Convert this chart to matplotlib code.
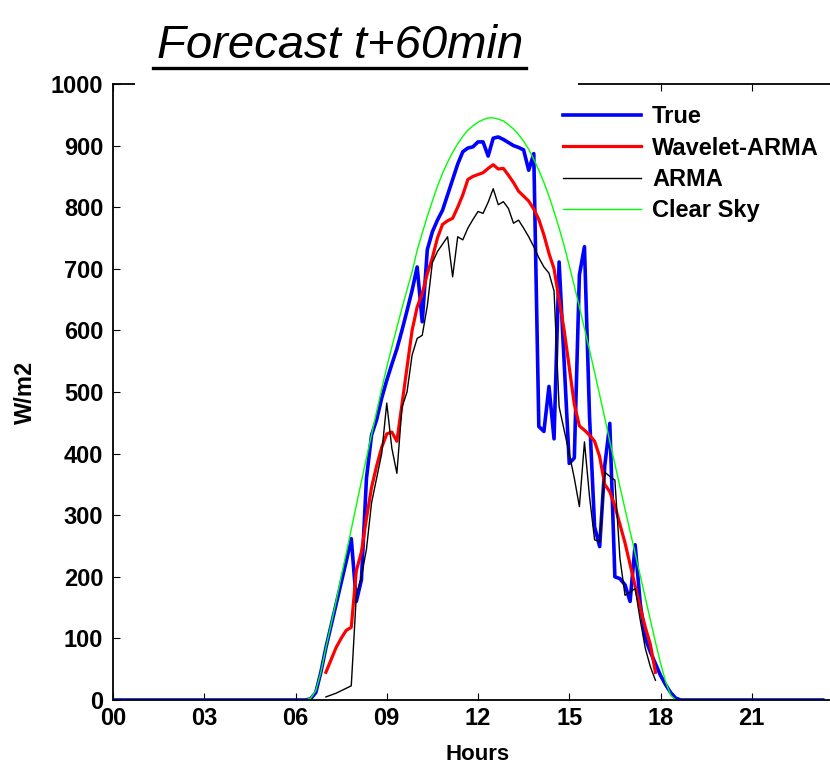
import numpy as np
import matplotlib
matplotlib.use("Agg")
import matplotlib.pyplot as plt
from matplotlib.lines import Line2D
from matplotlib.patches import Rectangle

plt.rcParams["font.family"] = ["Liberation Sans", "DejaVu Sans"]

# =========================
# data (10-minute steps, W/m2)
# =========================
STEP_H = 1 / 6
N_DAY = 141  # 00:00 .. 23:20

# True: 06:20 .. 18:30
TRUE_START = 6 + 20 / 60
TRUE = [0, 2, 12, 45, 85, 120, 155, 190, 225, 262,
        160, 195, 360, 430, 455, 490, 519, 545, 570, 600,
        632, 665, 703, 614, 731, 760, 779, 795, 820, 845,
        870, 890, 896, 898, 906, 906, 883, 912, 914, 910,
        905, 900, 897, 893, 860, 887, 444, 436, 509, 424,
        711, 547, 384, 393, 690, 736, 460, 281, 249, 380,
        449, 200, 197, 187, 160, 252, 157, 100, 78, 59,
        40, 25, 12, 3, 0]

# Wavelet-ARMA: 07:00 .. 17:50
WAV_START = 7.0
WAVELET = [45, 65, 85, 100, 113, 118, 210, 240, 295, 345,
           380, 410, 432, 435, 420, 480, 540, 600, 638, 660,
           692, 718, 750, 772, 778, 782, 800, 820, 845, 850,
           853, 856, 863, 869, 862, 863, 852, 840, 826, 818,
           810, 797, 780, 755, 725, 700, 650, 600, 540, 480,
           445, 438, 430, 420, 395, 350, 338, 315, 285, 255,
           220, 185, 150, 118, 90, 45]

# ARMA: 07:00 .. 17:50
ARMA_START = 7.0
ARMA = [5, 8, 11, 15, 19, 23, 170, 200, 245, 320,
        360, 400, 482, 409, 368, 475, 500, 560, 587, 592,
        640, 710, 728, 740, 752, 687, 752, 747, 766, 780,
        793, 790, 808, 830, 804, 809, 798, 774, 779, 766,
        752, 736, 718, 703, 693, 664, 476, 438, 400, 360,
        314, 419, 330, 260, 257, 370, 363, 357, 230, 170,
        175, 181, 130, 84, 54, 32]

# Clear sky: 06:20 .. 18:30
CS_START = 6 + 20 / 60
CLEAR_SKY = [0, 3, 15, 45, 85, 122, 160, 200, 238, 277,
             316, 355, 393, 431, 468, 505, 540, 573, 605, 636,
             666, 695, 730, 758, 785, 810, 834, 855, 873, 889,
             903, 915, 925, 932, 938, 942, 945, 945, 943, 940,
             934, 927, 918, 907, 894, 878, 860, 840, 818, 793,
             766, 737, 705, 672, 638, 603, 568, 532, 495, 458,
             420, 383, 346, 310, 274, 238, 202, 166, 130, 94,
             60, 30, 8, 0]

XTICKS = [0, 3, 6, 9, 12, 15, 18, 21, 24]
XTICK_LABELS = ["00", "03", "06", "09", "12", "15", "18", "21", "00"]
YTICKS = list(range(0, 1001, 100))


def full_day(values, start_h):
    # pad the daytime series with the zero night values
    i0 = int(round(start_h / STEP_H))
    out = np.zeros(N_DAY)
    out[i0:i0 + len(values)] = values
    return out


hours = np.arange(N_DAY) * STEP_H
true_day = full_day(TRUE, TRUE_START)
cs_day = full_day(CLEAR_SKY, CS_START)
wav_t = WAV_START + np.arange(len(WAVELET)) * STEP_H
arma_t = ARMA_START + np.arange(len(ARMA)) * STEP_H

# =========================
# plot
# =========================
fig = plt.figure(figsize=(8.3, 7.6), dpi=100)
ax = fig.add_axes([113 / 830, 60 / 760, 730 / 830, 616 / 760])

ax.plot(hours, true_day, color="#0000ff", linewidth=2.6, label="True")
ax.plot(wav_t, WAVELET, color="#ff0000", linewidth=2.3, label="Wavelet-ARMA")
ax.plot(arma_t, ARMA, color="black", linewidth=1.0, label="ARMA")
ax.plot(hours, cs_day, color="#00ff00", linewidth=1.0, label="Clear Sky")

ax.set_xlim(0, 24)
ax.set_ylim(0, 1000)
ax.set_xticks(XTICKS)
ax.set_xticklabels(XTICK_LABELS)
ax.set_yticks(YTICKS)
ax.tick_params(direction="in", length=5, width=0.8, labelsize=17, top=True, right=True)
ax.tick_params(axis="x", pad=5)
ax.tick_params(axis="y", pad=7)
for lab in ax.get_xticklabels() + ax.get_yticklabels():
    lab.set_fontweight("bold")
for sp in ax.spines.values():
    sp.set_linewidth(1.3)

ax.set_xlabel("Hours", fontsize=16, fontweight="bold", labelpad=10)
ax.set_ylabel("W/m2", fontsize=17, fontweight="bold", labelpad=10)

ax.legend(loc="upper left", bbox_to_anchor=(554 / 830, 1 - 96 / 760),
          bbox_transform=fig.transFigure, frameon=False,
          prop={"size": 17, "weight": "bold"}, handlelength=3.3,
          handletextpad=0.45, labelspacing=0.35, borderaxespad=0)

# title box hides part of the top axis line
fig.patches.append(Rectangle((135 / 830, 1 - 96 / 760), 443 / 830, 90 / 760,
                             transform=fig.transFigure, facecolor="white",
                             edgecolor="none", zorder=5))
fig.text(340 / 830, 1 - 46 / 760, "Forecast t+60min", fontsize=34, style="italic",
         ha="center", va="center", zorder=6)
fig.lines.append(Line2D([153 / 830, 526 / 830], [1 - 68 / 760, 1 - 68 / 760],
                        transform=fig.transFigure, color="black", linewidth=2.4,
                        zorder=6))

fig.savefig("out.png", dpi=100)
